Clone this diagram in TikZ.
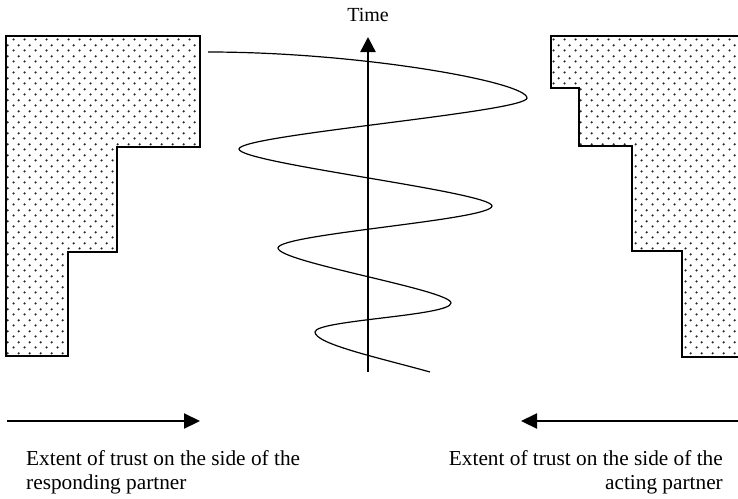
\documentclass[tikz,border=0pt]{standalone}
\usepackage{fontspec}
\setmainfont{Liberation Serif}
\usetikzlibrary{arrows.meta,patterns.meta}
\tikzdeclarepattern{
  name=qdots,
  type=colored,
  bounding box={(0pt,0pt) and (10.6pt,10.6pt)},
  tile size={(10.6pt,10.6pt)},
  code={
    \fill[black!85] (2.65pt,2.65pt) circle [radius=1.25pt];
    \fill[black!85] (7.95pt,7.95pt) circle [radius=1.25pt];
  }
}
\tikzset{
  outline/.style={line width=1.2pt, line join=miter},
  dotfill/.style={pattern=qdots},
  spiral/.style={line width=1.2pt},
  timeaxis/.style={line width=2.5pt, -{Triangle[length=15pt,width=15pt]}},
  trustarrow/.style={line width=2.2pt, -{Triangle[length=16pt,width=15pt]}},
  label/.style={font=\fontsize{21.3pt}{23.5pt}\selectfont, inner sep=0pt},
  timelabel/.style={font=\fontsize{20pt}{22pt}\selectfont, inner sep=0pt},
}
\begin{document}
\begin{tikzpicture}[x=1pt,y=-1pt]
\useasboundingbox (0,0) rectangle (738,498);
% left (responding partner) block
\fill[dotfill] (6,36) -- (200,36) -- (200,147) -- (117,147) -- (117,252) -- (68,252) -- (68,356) -- (6,356) -- cycle;
\draw[outline] (6,36) -- (200,36) -- (200,147) -- (117,147) -- (117,252) -- (68,252) -- (68,356) -- (6,356) -- cycle;
% right (acting partner) block
\fill[dotfill] (551,36) -- (740,36) -- (740,357) -- (682,357) -- (682,251) -- (632,251) -- (632,146) -- (579,146) -- (579,88) -- (551,88) -- cycle;
\draw[outline] (740,36) -- (551,36) -- (551,88) -- (579,88) -- (579,146) -- (632,146) -- (632,251) -- (682,251) -- (682,357) -- (740,357);
% spiral
\coordinate (sstart) at (208,52);
\coordinate (send) at (430,372);
\draw[spiral] (sstart)
  .. controls (360,52) and (527,82) .. (527,98)
  .. controls (527,112) and (239,135) .. (239,149)
  .. controls (239,163) and (492,192) .. (492,206)
  .. controls (492,220) and (278,234) .. (278,248)
  .. controls (278,262) and (451,290) .. (451,303)
  .. controls (451,316) and (315,320) .. (315,332)
  .. controls (315,344) and (380,358) .. (send);
% time axis
\coordinate (tbot) at (368,372);
\coordinate (ttop) at (368,37);
\draw[timeaxis] (tbot) -- (ttop);
\node[timelabel, anchor=base] (time) at (368,21) {Time};
% trust arrows
\coordinate (la) at (7,421);
\coordinate (lb) at (200,421);
\draw[trustarrow] (la) -- (lb);
\coordinate (ra) at (738,421);
\coordinate (rb) at (521,421);
\draw[trustarrow] (ra) -- (rb);
\node[label, anchor=north west, align=left] (resp) at (26,450.5) {Extent of trust on the side of the\\responding partner};
\node[label, anchor=north east, align=right] (act) at (723,450.5) {Extent of trust on the side of the\\acting partner};
\end{tikzpicture}
\end{document}
